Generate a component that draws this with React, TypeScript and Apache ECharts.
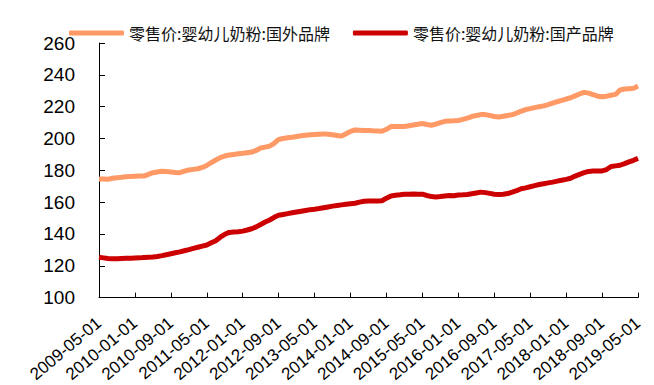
import React, { useEffect, useRef } from "react";
import * as echarts from "echarts";

// Monthly categories: 2009-05-01 .. 2019-05-01
const startYear = 2009;
const startMonth = 5;
const monthCount = 121;
const categories: string[] = [];
for (let i = 0; i < monthCount; i++) {
  const m0 = startMonth - 1 + i;
  const y = startYear + Math.floor(m0 / 12);
  const m = (m0 % 12) + 1;
  categories.push(`${y}-${m < 10 ? "0" + m : m}-01`);
}

const seriesNames = ["零售价:婴幼儿奶粉:国外品牌", "零售价:婴幼儿奶粉:国产品牌"];

const foreignBrand = [
  174.6, 174.5, 174.4, 175.0, 175.4, 175.6, 175.9, 176.2, 176.3, 176.4, 176.4, 177.5,
  178.5, 179.0, 179.4, 179.2, 178.9, 178.6, 178.5, 179.5, 180.2, 180.6, 181.0, 181.8,
  183.1, 184.8, 186.5, 188.0, 189.0, 189.6, 190.0, 190.4, 190.7, 191.1, 191.5, 192.5,
  194.0, 194.6, 195.2, 197.0, 199.4, 200.0, 200.5, 200.8, 201.3, 201.7, 202.1, 202.3,
  202.5, 202.7, 202.9, 202.6, 202.3, 201.9, 201.5, 203.0, 204.5, 205.4, 205.2, 205.0,
  205.0, 204.8, 204.7, 204.6, 205.8, 207.5, 207.5, 207.5, 207.5, 208.0, 208.5, 209.0,
  209.4, 208.8, 208.3, 209.0, 210.0, 210.8, 211.0, 211.1, 211.3, 212.0, 212.8, 213.8,
  214.5, 215.0, 215.0, 214.5, 213.8, 213.5, 214.0, 214.5, 215.0, 216.0, 217.2, 218.2,
  218.8, 219.4, 220.0, 220.5, 221.3, 222.2, 223.1, 223.9, 224.8, 225.6, 226.8, 228.0,
  229.0, 228.5, 227.5, 226.6, 226.2, 226.6, 227.2, 227.7, 230.5, 231.1, 231.3, 231.5,
  233.0,
];

const domesticBrand = [
  125.4, 125.0, 124.6, 124.4, 124.5, 124.6, 124.7, 124.8, 124.9, 125.0, 125.2, 125.4,
  125.6, 125.9, 126.4, 127.0, 127.6, 128.2, 128.8, 129.5, 130.2, 131.0, 131.7, 132.4,
  133.1, 134.5, 135.8, 138.0, 139.8, 141.0, 141.2, 141.4, 141.8, 142.5, 143.3, 144.5,
  146.0, 147.5, 148.8, 150.5, 151.8, 152.3, 152.8, 153.3, 153.8, 154.3, 154.8, 155.3,
  155.6, 156.0, 156.5, 157.0, 157.5, 157.9, 158.3, 158.7, 159.0, 159.3, 160.0, 160.6,
  160.8, 160.8, 160.8, 160.9, 162.5, 163.9, 164.3, 164.6, 165.0, 165.0, 165.1, 165.0,
  165.0, 164.2, 163.5, 163.3, 163.5, 163.9, 164.2, 164.0, 164.5, 164.6, 164.8, 165.3,
  165.8, 166.3, 166.0, 165.5, 165.0, 164.8, 165.0, 165.4, 166.3, 167.3, 168.4, 169.0,
  169.7, 170.4, 171.1, 171.6, 172.1, 172.6, 173.2, 173.8, 174.3, 175.0, 176.4, 177.5,
  178.5, 179.3, 179.6, 179.6, 179.6, 180.5, 182.4, 182.8, 183.2, 184.2, 185.3, 186.3,
  187.5,
];

const colors = ["#FF9966", "#CC0000"];
const FONT = "'Liberation Sans', Arial, 'Noto Sans CJK SC', sans-serif";

export default function App() {
  const ref = useRef<HTMLDivElement>(null);
  useEffect(() => {
    if (!ref.current) return;
    const chart = echarts.init(ref.current, undefined, { renderer: "svg" });
    chart.setOption({
      animation: false,
      backgroundColor: "#ffffff",
      color: colors,
      legend: {
        left: 64,
        top: 20,
        itemWidth: 55,
        itemHeight: 5,
        itemGap: 23,
        icon: "roundRect",
        textStyle: { fontSize: 16, color: "#111", fontFamily: "'Noto Sans CJK SC', sans-serif" },
        data: seriesNames,
      },
      grid: { left: 99, right: 16, top: 43, bottom: 86, containLabel: false },
      xAxis: {
        type: "category",
        data: categories,
        boundaryGap: false,
        axisLine: { show: true, lineStyle: { color: "#000", width: 1 } },
        axisTick: { show: true, inside: true, length: 5, interval: 7, lineStyle: { color: "#000" } },
        axisLabel: {
          interval: 7,
          rotate: 40,
          margin: 23,
          fontSize: 17,
          color: "#000",
          fontFamily: FONT,
        },
        splitLine: { show: false },
      },
      yAxis: {
        type: "value",
        min: 100,
        max: 260,
        interval: 20,
        axisLine: { show: true, lineStyle: { color: "#000", width: 1 } },
        axisTick: { show: true, inside: true, length: 6, lineStyle: { color: "#000" } },
        axisLabel: { fontSize: 19, color: "#000", margin: 24, fontFamily: FONT },
        splitLine: { show: false },
      },
      series: [
        {
          name: seriesNames[0],
          type: "line",
          data: foreignBrand,
          showSymbol: false,
          lineStyle: { width: 5, color: colors[0] },
        },
        {
          name: seriesNames[1],
          type: "line",
          data: domesticBrand,
          showSymbol: false,
          lineStyle: { width: 5, color: colors[1] },
        },
      ],
    });
    return () => chart.dispose();
  }, []);
  return (
    <div
      ref={ref}
      style={{ position: "absolute", left: 0, top: 0, width: 654, height: 385 }}
    />
  );
}
